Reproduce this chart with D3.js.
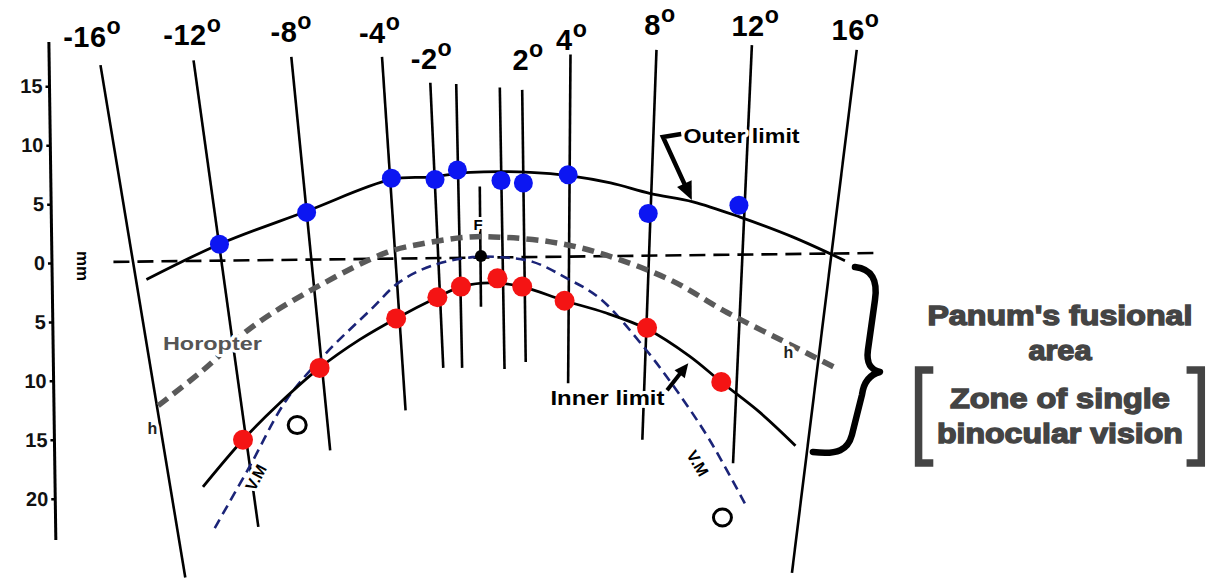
<!DOCTYPE html>
<html>
<head>
<meta charset="utf-8">
<script src="https://cdn.jsdelivr.net/npm/d3@7"></script>
<style>
  body { margin: 0; background: #fff; }
  svg { display: block; font-family: "Liberation Sans", Arial, Helvetica, sans-serif; }
</style>
</head>
<body>
<div id="container"></div>
<script>
/* CONSTANTS AND GLOBALS */
const width = 1206;
const height = 581;

/* DATA  (mm: x = lateral from fixation F, y = depth, + = beyond F) */
const yTicks = [15, 10, 5, 0, -5, -10, -15, -20];

// lines of visual direction
const dirTopX = [-32.3, -24.4, -16.1, -8.4, -4.3, -2.1, -0.1, 1.6, 3.5, 7.6, 14.9, 23.0, 31.9];
const dirTopY = [16.8, 17.2, 17.5, 17.5, 15.3, 15.2, 6.5, 14.9, 14.7, 17.7, 18.1, 18.5, 18.1];
const dirBotX = [-25.1, -18.9, -12.8, -6.4, -3.2, -1.6, 0.0, 2.0, 3.8, 7.4, 13.7, 21.4, 26.4];
const dirBotY = [-26.7, -22.4, -15.9, -12.5, -8.9, -8.9, -3.7, -9.0, -8.4, -10.2, -15.0, -17.0, -26.3];

// angle labels
const angleNames = ["-16", "-12", "-8", "-4", "-2", "2", "4", "8", "12", "16"];
const angleLabX = [-33.0, -24.5, -16.1, -8.6, -4.2, 4.0, 7.7, 15.2, 23.3, 31.8];
const angleLabY = [18.3, 18.5, 18.8, 18.7, 16.5, 16.4, 18.1, 19.4, 19.3, 18.9];

// outer limit (blue) and inner limit (red) measurements
const outerPtX = [-22.2, -14.8, -7.6, -3.9, -2.0, 1.7, 3.6, 7.4, 14.2, 21.9];
const outerPtY = [1.6, 4.3, 7.2, 7.1, 7.9, 7.0, 6.8, 7.5, 4.2, 4.9];
const innerPtX = [-20.2, -13.7, -7.2, -3.7, -1.7, 1.4, 3.5, 7.1, 14.1, 20.4];
const innerPtY = [-15.0, -8.9, -4.7, -2.9, -2.0, -1.3, -2.0, -3.2, -5.5, -10.1];

// curves
const outerX = [-28.4, -22.2, -14.8, -7.6, -4.3, -0.9, 4.2, 7.6, 11.0, 14.4, 18.0, 22.0, 26.5, 30.9];
const outerY = [-1.4, 1.6, 4.4, 7.1, 7.3, 7.7, 7.7, 7.4, 6.8, 5.9, 5.2, 3.9, 2.2, 0.2];
const innerX = [-23.6, -20.2, -17.1, -13.7, -10.3, -7.2, -3.7, -1.7, 0.1, 1.4, 3.5, 7.1, 10.5, 14.1, 17.7, 20.4, 23.7, 26.7];
const innerY = [-19.0, -15.0, -11.9, -8.9, -6.5, -4.7, -2.9, -2.0, -1.7, -1.7, -2.0, -3.2, -4.2, -5.6, -7.9, -10.1, -12.7, -15.5];
const horoX = [-27.4, -23.6, -19.4, -13.7, -8.0, -5.2, -1.2, 1.6, 5.9, 9.9, 16.0, 20.9, 26.0, 30.1];
const horoY = [-12.1, -9.1, -5.4, -1.9, 0.9, 1.6, 2.2, 2.2, 1.8, 0.9, -1.4, -4.2, -6.8, -8.9];
const vmX = [-22.6, -19.6, -16.5, -13.1, -9.4, -6.9, -4.1, -0.7, 1.6, 4.4, 7.3, 10.1, 13.8, 16.6, 19.4, 22.4];
const vmY = [-22.5, -17.2, -11.6, -7.6, -4.0, -1.6, -0.2, 0.5, 0.5, 0.1, -1.3, -3.0, -7.1, -10.8, -15.0, -20.4];

const zeroLineX = [-31.2, 33.5];
const zeroLineY = [0.1, 0.85];
const fixation = [0, 0.6];

const panumLines = ["Panum's fusional", "area", "Zone of single", "binocular vision"];

/* SCALES */
const xScale = d3.scaleLinear().domain([-40.83, 61.55]).range([0, width]);
const yScale = d3.scaleLinear().domain([22.33, -26.99]).range([0, height]);
const px = (x, y) => [xScale(x), yScale(y)];

const svg = d3.select("#container").append("svg")
  .attr("width", width)
  .attr("height", height);

const line = d3.line()
  .x(d => xScale(d[0]))
  .y(d => yScale(d[1]))
  .curve(d3.curveCatmullRom.alpha(0.5));

/* Y AXIS */
const axisX = xScale(-36.73);
const yAxis = d3.axisLeft(yScale)
  .tickValues(yTicks)
  .tickFormat(d => Math.abs(d))
  .tickSize(4)
  .tickPadding(3);
const gAxis = svg.append("g")
  .attr("transform", `translate(${axisX},0) skewX(0.8)`)
  .call(yAxis);
gAxis.select(".domain").remove();
gAxis.selectAll(".tick line").attr("stroke", "#000").attr("stroke-width", 2.5);
gAxis.selectAll(".tick text")
  .attr("font-size", 20).attr("font-weight", "bold")
  .attr("font-family", "'Liberation Sans', Arial, sans-serif")
  .attr("fill", "#111");
gAxis.append("line")
  .attr("x1", 0).attr("x2", 0)
  .attr("y1", yScale(18.76)).attr("y2", yScale(-23.5))
  .attr("stroke", "#000").attr("stroke-width", 3);

svg.append("text")
  .attr("transform", `translate(${xScale(-34.3)},${yScale(-0.25)}) rotate(90)`)
  .attr("text-anchor", "middle")
  .attr("font-size", 16).attr("font-weight", "bold")
  .attr("textLength", 30).attr("lengthAdjust", "spacingAndGlyphs")
  .text("mm");

/* DIRECTION LINES */
const dirLines = dirTopX.map((x, i) => ({ x1: x, y1: dirTopY[i], x2: dirBotX[i], y2: dirBotY[i] }));
svg.selectAll("line.dir")
  .data(dirLines)
  .join("line")
  .attr("class", "dir")
  .attr("x1", d => xScale(d.x1)).attr("y1", d => yScale(d.y1))
  .attr("x2", d => xScale(d.x2)).attr("y2", d => yScale(d.y2))
  .attr("stroke", "#000").attr("stroke-width", 2.6);

/* ZERO LINE */
svg.append("line")
  .attr("x1", xScale(zeroLineX[0])).attr("y1", yScale(zeroLineY[0]))
  .attr("x2", xScale(zeroLineX[1])).attr("y2", yScale(zeroLineY[1]))
  .attr("stroke", "#000").attr("stroke-width", 2.6)
  .attr("stroke-dasharray", "16,8");

/* CURVES */
svg.append("path")
  .datum(horoX.map((x, i) => [x, horoY[i]]))
  .attr("d", line)
  .attr("fill", "none").attr("stroke", "#5a5a5a")
  .attr("stroke-width", 5.5).attr("stroke-dasharray", "12,7");

svg.append("path")
  .datum(vmX.map((x, i) => [x, vmY[i]]))
  .attr("d", line)
  .attr("fill", "none").attr("stroke", "#1b2478")
  .attr("stroke-width", 2.6).attr("stroke-dasharray", "10,6");

svg.append("path")
  .datum(outerX.map((x, i) => [x, outerY[i]]))
  .attr("d", line)
  .attr("fill", "none").attr("stroke", "#000").attr("stroke-width", 2.8);

svg.append("path")
  .datum(innerX.map((x, i) => [x, innerY[i]]))
  .attr("d", line)
  .attr("fill", "none").attr("stroke", "#000").attr("stroke-width", 2.8);

/* POINTS */
svg.selectAll("circle.outer")
  .data(outerPtX.map((x, i) => [x, outerPtY[i]]))
  .join("circle")
  .attr("class", "outer")
  .attr("cx", d => xScale(d[0])).attr("cy", d => yScale(d[1]))
  .attr("r", 9.5).attr("fill", "#0c16f2");

svg.selectAll("circle.inner")
  .data(innerPtX.map((x, i) => [x, innerPtY[i]]))
  .join("circle")
  .attr("class", "inner")
  .attr("cx", d => xScale(d[0])).attr("cy", d => yScale(d[1]))
  .attr("r", 10).attr("fill", "#f41414");

svg.append("circle")
  .attr("cx", xScale(fixation[0])).attr("cy", yScale(fixation[1]))
  .attr("r", 6).attr("fill", "#000");

/* ANGLE LABELS */
const angleText = svg.selectAll("text.angle")
  .data(angleNames)
  .join("text")
  .attr("class", "angle")
  .attr("x", (d, i) => xScale(angleLabX[i]))
  .attr("y", (d, i) => yScale(angleLabY[i]))
  .attr("text-anchor", "middle")
  .attr("font-size", 29).attr("font-weight", "bold")
  .attr("letter-spacing", 0.5)
  .attr("fill", "#000");
angleText.append("tspan").text(d => d);
angleText.append("tspan").attr("dy", -13).attr("font-size", "0.8em").text("o");

/* ANNOTATIONS */
function halo(sel) {
  return sel.attr("stroke", "#fff").attr("stroke-width", 6)
    .attr("stroke-linejoin", "round").attr("paint-order", "stroke");
}

halo(svg.append("text")
  .attr("x", xScale(17.2)).attr("y", yScale(10.2))
  .attr("font-size", 20).attr("font-weight", "bold")
  .attr("textLength", 116).attr("lengthAdjust", "spacingAndGlyphs")
  .attr("fill", "#000").text("Outer limit"));

halo(svg.append("text")
  .attr("x", xScale(5.9)).attr("y", yScale(-12.05))
  .attr("font-size", 20).attr("font-weight", "bold")
  .attr("textLength", 114).attr("lengthAdjust", "spacingAndGlyphs")
  .attr("fill", "#000").text("Inner limit"));

halo(svg.append("text")
  .attr("x", xScale(-27.0)).attr("y", yScale(-7.4))
  .attr("font-size", 19).attr("font-weight", "bold")
  .attr("textLength", 99).attr("lengthAdjust", "spacingAndGlyphs")
  .attr("fill", "#555").text("Horopter"));

halo(svg.append("text")
  .attr("x", xScale(-0.25)).attr("y", yScale(2.8))
  .attr("text-anchor", "middle")
  .attr("font-size", 15).attr("font-weight", "bold")
  .attr("fill", "#000").text("F"));

[[-27.9, -14.5], [26.1, -8.1]].forEach(p => {
  halo(svg.append("text")
    .attr("x", xScale(p[0])).attr("y", yScale(p[1]))
    .attr("text-anchor", "middle")
    .attr("font-size", 16).attr("font-weight", "bold")
    .attr("fill", "#222").text("h"));
});

[[-19.1, -18.2, -62], [18.4, -17.0, 60]].forEach(p => {
  halo(svg.append("text")
    .attr("transform", `translate(${xScale(p[0])},${yScale(p[1])}) rotate(${p[2]})`)
    .attr("text-anchor", "middle").attr("dy", "0.35em")
    .attr("font-size", 16).attr("font-weight", "bold")
    .attr("fill", "#000").text("V.M"));
});

// small circles
[[-15.6, -13.75], [20.5, -21.6]].forEach(p => {
  svg.append("ellipse")
    .attr("cx", xScale(p[0])).attr("cy", yScale(p[1]))
    .attr("rx", 9).attr("ry", 8.5)
    .attr("fill", "none").attr("stroke", "#000").attr("stroke-width", 3);
});

// arrows
function arrowHead(tip, from, len, half) {
  const dx = tip[0] - from[0], dy = tip[1] - from[1];
  const L = Math.hypot(dx, dy), ux = dx / L, uy = dy / L;
  const bx = tip[0] - ux * len, by = tip[1] - uy * len;
  return `M${tip[0]},${tip[1]}L${bx - uy * half},${by + ux * half}L${bx + uy * half},${by - ux * half}Z`;
}
{
  const arm = px(17.0, 10.95), corner = px(15.45, 10.7), tip = px(17.9, 5.35);
  const dx = tip[0] - corner[0], dy = tip[1] - corner[1], L = Math.hypot(dx, dy);
  const shaftEnd = [tip[0] - dx / L * 12, tip[1] - dy / L * 12];
  svg.append("path")
    .attr("d", `M${arm}L${corner}L${shaftEnd}`)
    .attr("fill", "none").attr("stroke", "#000").attr("stroke-width", 4.5)
    .attr("stroke-linejoin", "miter");
  svg.append("path").attr("d", arrowHead(tip, corner, 18, 8)).attr("fill", "#000");
}
{
  const tail = px(15.8, -10.8), tip = px(17.6, -8.5);
  const dx = tip[0] - tail[0], dy = tip[1] - tail[1], L = Math.hypot(dx, dy);
  const shaftEnd = [tip[0] - dx / L * 10, tip[1] - dy / L * 10];
  svg.append("path")
    .attr("d", `M${tail}L${shaftEnd}`)
    .attr("fill", "none").attr("stroke", "#000").attr("stroke-width", 4);
  svg.append("path").attr("d", arrowHead(tip, tail, 14, 6.5)).attr("fill", "#000");
}

// curly brace
{
  const T = px(31.75, -0.34), P = px(33.87, -9.25), B = px(28.18, -16.04);
  const d = `M${T[0]},${T[1]}` +
    `C${T[0] + 17},${T[1] + 2} ${T[0] + 23},${T[1] + 13} ${T[0] + 20},${T[1] + 33}` +
    `L${P[0] - 12},${P[1] - 22}` +
    `C${P[0] - 14},${P[1] - 7} ${P[0] - 8},${P[1] - 2} ${P[0]},${P[1]}` +
    `C${P[0] - 8},${P[1] + 2} ${P[0] - 16},${P[1] + 8} ${P[0] - 18},${P[1] + 23}` +
    `L${B[0] + 39},${B[1] - 17}` +
    `C${B[0] + 35},${B[1] - 2} ${B[0] + 25},${B[1] + 3} ${B[0]},${B[1]}`;
  svg.append("path").attr("d", d)
    .attr("fill", "none").attr("stroke", "#000").attr("stroke-width", 6.5)
    .attr("stroke-linecap", "round").attr("stroke-linejoin", "round");
}

// Panum text
const panumX = xScale(49.15);
const panumY = [-5.26, -8.23, -12.31, -15.28];
const panumLen = [265, 63, 220, 246];
svg.selectAll("text.panum")
  .data(panumLines)
  .join("text")
  .attr("class", "panum")
  .attr("x", panumX)
  .attr("y", (d, i) => yScale(panumY[i]))
  .attr("text-anchor", "middle")
  .attr("font-size", 28).attr("font-weight", "bold")
  .attr("textLength", (d, i) => panumLen[i]).attr("lengthAdjust", "spacingAndGlyphs")
  .attr("fill", "#444").attr("stroke", "#444").attr("stroke-width", 1.4)
  .text(d => d);

// square brackets
{
  const top = yScale(-9.08), bot = yScale(-16.98);
  const lIn = xScale(38.4), lBar = xScale(37.15);
  const rIn = xScale(59.9), rBar = xScale(61.15);
  svg.append("path")
    .attr("d", `M${lIn},${top}L${lBar},${top}L${lBar},${bot}L${lIn},${bot}`)
    .attr("fill", "none").attr("stroke", "#444").attr("stroke-width", 7.5);
  svg.append("path")
    .attr("d", `M${rIn},${top}L${rBar},${top}L${rBar},${bot}L${rIn},${bot}`)
    .attr("fill", "none").attr("stroke", "#444").attr("stroke-width", 7.5);
}
</script>
</body>
</html>
